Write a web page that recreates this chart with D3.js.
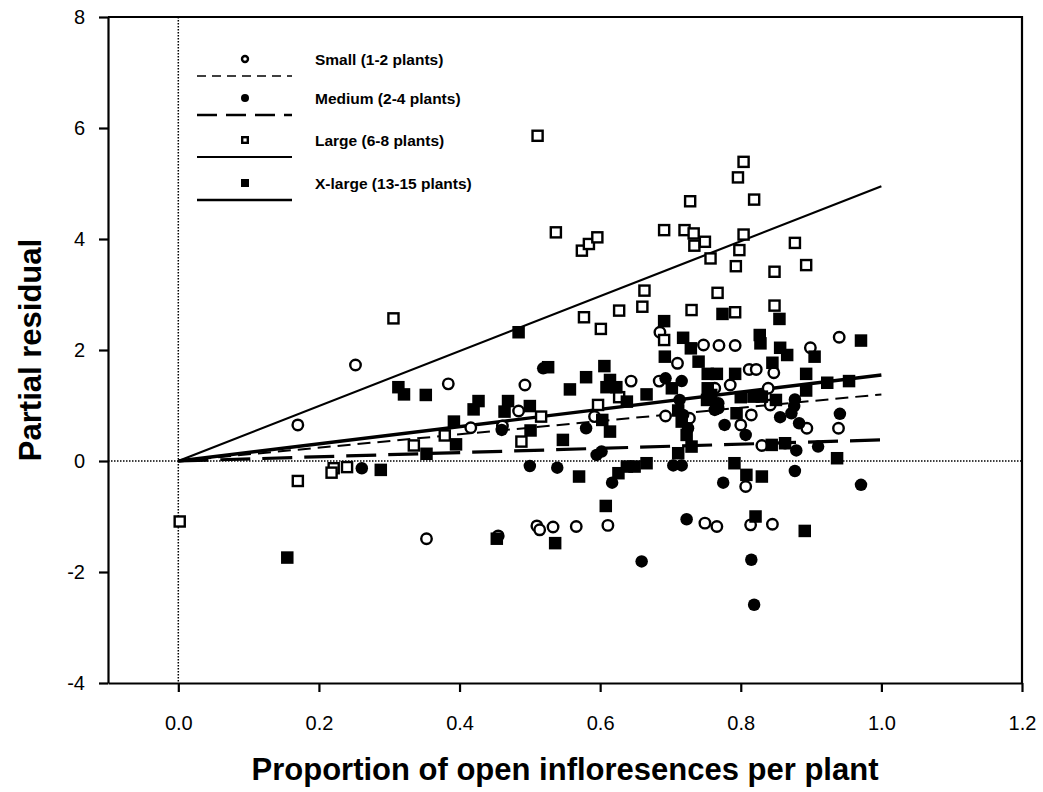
<!DOCTYPE html>
<meta charset="utf-8">
<title>Partial residual vs open inflorescences</title>
<style>
body { margin: 0; background: #fff; }
svg { font-family: "Liberation Sans", Arial, sans-serif; }
.axis text { font-size: 20px; fill: #000; }
.axis path, .axis line { stroke: #000; stroke-width: 2.2px; }
.title { font-size: 31px; font-weight: bold; }
.legend text { font-size: 15.5px; font-weight: bold; }
</style>
<svg width="1043" height="792"></svg>
<script src="https://d3js.org/d3.v7.min.js"></script>
<script>

// Small (1-2 plants), open circles
var smallX = [.170,.252,.384,.416,.461,.484,.493,.592,.644,.684,.685,.710,.747,.769,.792,.727,.693,.763,.785,.812,.822,.847,.839,.842,.815,.800,.894,.939,.899,.940,.830,.807,.353,.455,.510,.514,.533,.566,.611,.749,.766,.814,.845];
var smallY = [.65,1.73,1.39,.60,.63,.90,1.37,.80,1.44,1.44,2.32,1.76,2.09,2.08,2.08,.77,.81,1.31,1.37,1.65,1.65,1.59,1.31,1.01,.83,.65,.59,.59,2.04,2.23,.28,-.46,-1.40,-1.35,-1.17,-1.24,-1.19,-1.18,-1.16,-1.12,-1.18,-1.15,-1.14];

// Medium (2-4 plants), filled circles
var mediumX = [.261,.519,.460,.580,.595,.602,.500,.539,.617,.704,.716,.713,.718,.725,.716,.693,.768,.777,.763,.807,.856,.883,.877,.876,.872,.941,.863,.879,.910,.877,.775,.971,.723,.659,.815,.819,.768];
var mediumY = [-.13,1.67,.56,.59,.11,.17,-.09,-.12,-.39,-.08,-.08,1.10,.83,.59,1.44,1.49,.95,.65,.92,.47,.79,.68,1.11,.99,.86,.85,.32,.19,.26,-.18,-.39,-.43,-1.05,-1.81,-1.78,-2.59,1.04];

// Large (6-8 plants), open squares
var largeX = [.511,.537,.574,.584,.596,.691,.720,.733,.734,.749,.728,.804,.796,.819,.804,.798,.757,.793,.877,.893,.848,.663,.767,.660,.627,.577,.601,.730,.792,.848,.691,.306,.627,.597,.516,.488,.379,.335,.240,.221,.218,.170,.002];
var largeY = [5.86,4.12,3.79,3.91,4.03,4.16,4.16,4.10,3.88,3.95,4.68,5.39,5.11,4.71,4.08,3.80,3.65,3.51,3.93,3.53,3.41,3.07,3.03,2.78,2.71,2.59,2.38,2.72,2.68,2.80,2.18,2.57,1.15,1.01,.80,.35,.46,.28,-.11,-.13,-.21,-.36,-1.09];

// X-large (13-15 plants), filled squares
var xlargeX = [.484,.313,.321,.352,.427,.420,.392,.395,.353,.288,.155,.453,.469,.464,.500,.501,.526,.606,.580,.557,.614,.609,.623,.638,.666,.702,.547,.614,.603,.691,.718,.729,.692,.740,.774,.855,.827,.828,.971,.856,.866,.905,.845,.893,.923,.954,.893,.753,.766,.792,.753,.758,.800,.818,.830,.850,.794,.711,.716,.723,.730,.711,.844,.863,.937,.791,.808,.830,.570,.626,.638,.649,.666,.608,.536,.821,.891,.752];
var xlargeY = [2.32,1.33,1.20,1.19,1.08,.93,.71,.30,.13,-.16,-1.74,-1.40,1.08,.89,.99,.55,1.69,1.71,1.51,1.29,1.46,1.33,1.33,1.07,1.20,1.31,.38,.53,.74,2.52,2.22,2.03,1.88,1.79,2.65,2.56,2.27,2.12,2.17,2.04,1.91,1.88,1.77,1.57,1.41,1.44,1.27,1.57,1.57,1.57,1.31,1.19,1.15,1.16,1.16,1.10,.86,.91,.71,.47,.26,.14,.29,.32,.05,-.04,-.25,-.28,-.28,-.22,-.10,-.10,-.04,-.81,-1.48,-1.00,-1.26,1.10];

// fitted lines through the origin, value at x = 1.0
var fitNames = ["Small (1-2 plants)", "Medium (2-4 plants)", "Large (6-8 plants)", "X-large (13-15 plants)"];
var fitEnd = [1.20, 0.38, 4.95, 1.55];

var xTicks = [0, 0.2, 0.4, 0.6, 0.8, 1.0, 1.2];
var yTicks = [-4, -2, 0, 2, 4, 6, 8];

var svg = d3.select("svg");
var mLeft = 108, mRight = 1022, mTop = 17, mBottom = 683;

var x = d3.scaleLinear().domain([-0.1, 1.2]).range([mLeft, mRight]);
var y = d3.scaleLinear().domain([-4, 8]).range([mBottom, mTop]);

// series styles
var styles = [
  {shape: "circle", fill: "#fff", dash: "13,7", width: 2},
  {shape: "circle", fill: "#000", dash: "30,12", width: 3.2},
  {shape: "square", fill: "#fff", dash: null, width: 2.2},
  {shape: "square", fill: "#000", dash: null, width: 3.4}
];
var series = [
  d3.zip(smallX, smallY),
  d3.zip(mediumX, mediumY),
  d3.zip(largeX, largeY),
  d3.zip(xlargeX, xlargeY)
];

// reference dotted lines
svg.append("line")
  .attr("x1", x(0)).attr("x2", x(0)).attr("y1", y(8)).attr("y2", y(-4))
  .attr("stroke", "#000").attr("stroke-width", 1.5).attr("stroke-dasharray", "1.5,1.5");
svg.append("line")
  .attr("x1", x(-0.1)).attr("x2", x(1.2)).attr("y1", y(0)).attr("y2", y(0))
  .attr("stroke", "#000").attr("stroke-width", 1.5).attr("stroke-dasharray", "1.5,1.5");

// fitted lines
fitEnd.forEach(function(v, i) {
  svg.append("line")
    .attr("x1", x(0)).attr("y1", y(0))
    .attr("x2", x(1.0)).attr("y2", y(v))
    .attr("stroke", "#000")
    .attr("stroke-width", styles[i].width)
    .attr("stroke-dasharray", styles[i].dash);
});

function drawMarker(g, s, cx, cy, size) {
  if (s.shape == "circle") {
    g.append("circle")
      .attr("cx", cx).attr("cy", cy)
      .attr("r", s.fill == "#fff" ? size / 2 - 1 : size / 2)
      .attr("fill", s.fill)
      .attr("stroke", "#000")
      .attr("stroke-width", s.fill == "#fff" ? 2.4 : 0);
  } else {
    var h = s.fill == "#fff" ? size - 2.4 : size;
    g.append("rect")
      .attr("x", cx - h / 2).attr("y", cy - h / 2)
      .attr("width", h).attr("height", h)
      .attr("fill", s.fill)
      .attr("stroke", "#000")
      .attr("stroke-width", s.fill == "#fff" ? 2.4 : 0);
  }
}

var pts = svg.append("g");
series.forEach(function(data, i) {
  data.forEach(function(d) {
    drawMarker(pts, styles[i], x(d[0]), y(d[1]), 12.5);
  });
});

// axes
svg.append("g").attr("class", "axis")
  .attr("transform", "translate(0," + mBottom + ")")
  .call(d3.axisBottom(x).tickValues(xTicks).tickFormat(d3.format(".1f")).tickSize(9).tickSizeOuter(0).tickPadding(24));
svg.append("g").attr("class", "axis")
  .attr("transform", "translate(" + mLeft + ",0)")
  .call(d3.axisLeft(y).tickValues(yTicks).tickFormat(function(d) { return String(d); }).tickSize(9).tickSizeOuter(0).tickPadding(14));

// box top and right
svg.append("path")
  .attr("d", "M" + mLeft + "," + mTop + "H" + mRight + "V" + mBottom)
  .attr("fill", "none").attr("stroke", "#000").attr("stroke-width", 2.2);

// axis titles
svg.append("text").attr("class", "title")
  .attr("x", (mLeft + mRight) / 2).attr("y", 780)
  .attr("text-anchor", "middle")
  .text("Proportion of open infloresences per plant");
svg.append("text").attr("class", "title")
  .attr("transform", "translate(41," + (mTop + mBottom) / 2 + ") rotate(-90)")
  .attr("text-anchor", "middle")
  .text("Partial residual");

// legend
var legend = svg.append("g").attr("class", "legend");
var rowY = [59, 98, 140, 183];
fitNames.forEach(function(name, i) {
  drawMarker(legend, styles[i], 245, rowY[i], 8);
  legend.append("text").attr("x", 315).attr("y", rowY[i] + 5.5).text(name);
  legend.append("line")
    .attr("x1", 197).attr("x2", 292)
    .attr("y1", rowY[i] + 17).attr("y2", rowY[i] + 17)
    .attr("stroke", "#000")
    .attr("stroke-width", styles[i].width * 0.8)
    .attr("stroke-dasharray", styles[i].dash ? (i == 0 ? "9,6" : "20,9") : null);
});

</script>
